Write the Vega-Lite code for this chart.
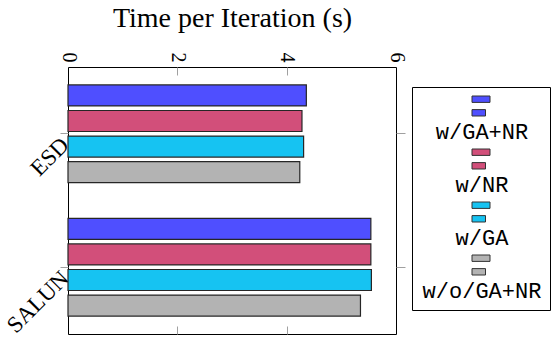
{
  "$schema": "https://vega.github.io/schema/vega-lite/v6.json",
  "autosize": {"type": "none"},
  "padding": {"left": 68, "top": 67, "right": 159, "bottom": 10},
  "width": 328,
  "height": 267,
  "data": {
    "values": [
      {"dataset": "ESD", "method": "w/GA+NR", "time": 4.36},
      {"dataset": "ESD", "method": "w/NR", "time": 4.28},
      {"dataset": "ESD", "method": "w/GA", "time": 4.31},
      {"dataset": "ESD", "method": "w/o/GA+NR", "time": 4.24},
      {"dataset": "SALUN", "method": "w/GA+NR", "time": 5.54},
      {"dataset": "SALUN", "method": "w/NR", "time": 5.54},
      {"dataset": "SALUN", "method": "w/GA", "time": 5.55},
      {"dataset": "SALUN", "method": "w/o/GA+NR", "time": 5.35}
    ]
  },
  "config": {
    "view": {"stroke": "#000000", "strokeWidth": 1},
    "axis": {"domain": false, "grid": false, "labelFont": "Liberation Serif", "titleFont": "Liberation Serif", "labelColor": "#000000", "titleColor": "#000000", "tickColor": "#a0a0a0", "tickWidth": 1}
  },
  "layer": [
    {
      "mark": {"type": "bar", "stroke": "#262626", "strokeWidth": 1.2},
      "encoding": {
        "x": {
          "field": "time", "type": "quantitative",
          "scale": {"domain": [0, 6], "nice": false, "zero": true},
          "axis": {
            "orient": "top", "values": [0, 2, 4, 6],
            "title": "Time per Iteration (s)", "titleFontSize": 28, "titleFontWeight": "normal", "titlePadding": 20,
            "labelAngle": 90, "labelAlign": "right", "labelBaseline": "middle",
            "labelFontSize": 20, "tickSize": -8, "labelPadding": 13,
            "tickColor": {"condition": {"test": "datum.value == 0 || datum.value == 6", "value": "transparent"}, "value": "#a0a0a0"}
          }
        },
        "y": {
          "field": "dataset", "type": "nominal",
          "scale": {"domain": ["ESD", "SALUN"], "paddingInner": 0.267, "paddingOuter": 0.134},
          "axis": {"orient": "left", "title": null, "labelAngle": -45, "labelAlign": "right", "labelBaseline": "top", "labelFontSize": 23, "tickSize": 8, "labelPadding": 3}
        },
        "yOffset": {
          "field": "method", "type": "nominal",
          "scale": {"domain": ["w/GA+NR", "w/NR", "w/GA", "w/o/GA+NR"], "paddingInner": 0.18, "paddingOuter": 0}
        },
        "color": {
          "field": "method", "type": "nominal",
          "scale": {"domain": ["w/GA+NR", "w/NR", "w/GA", "w/o/GA+NR"], "range": ["#4f4fff", "#d24f7a", "#16c3f2", "#b3b3b3"]},
          "legend": {
            "orient": "none", "legendX": 344, "legendY": 20,
            "title": null, "strokeColor": "#000000", "fillColor": "#ffffff", "padding": 8,
            "symbolType": "M -0.9 -1 H 0.9 V -0.36 H -0.9 Z M -0.9 0.36 H 0.45 V 1 H -0.9 Z",
            "symbolSize": 400, "symbolStrokeColor": "#333333", "symbolStrokeWidth": 1, "symbolOffset": 50,
            "labelFont": "Liberation Mono", "labelFontSize": 22, "labelColor": "#000000",
            "labelAlign": "center", "labelBaseline": "middle", "labelOffset": -10,
            "rowPadding": 4,
            "encode": {"labels": {"update": {"dy": {"value": 26}}}}
          }
        }
      }
    },
    {
      "mark": {"type": "bar", "opacity": 0},
      "encoding": {
        "x": {
          "field": "time", "type": "quantitative",
          "axis": {"orient": "bottom", "values": [2, 4], "labels": false, "title": null, "tickSize": -8}
        },
        "y": {
          "field": "dataset", "type": "nominal",
          "axis": {"orient": "right", "labels": false, "title": null, "tickSize": 9}
        }
      }
    }
  ],
  "resolve": {"axis": {"x": "independent", "y": "independent"}}
}
